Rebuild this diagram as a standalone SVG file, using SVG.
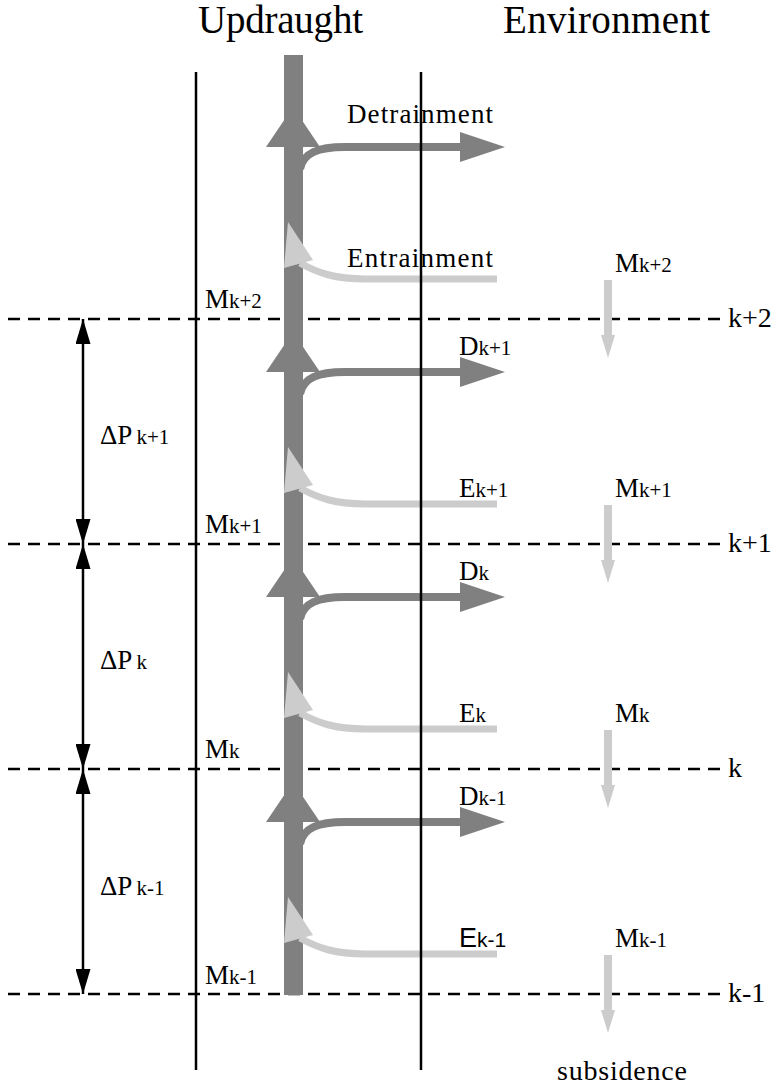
<svg xmlns="http://www.w3.org/2000/svg" width="777" height="1089" viewBox="0 0 777 1089" font-family="'Liberation Serif', 'Times New Roman', 'DejaVu Serif', serif">
<style>
  .t { font-family: "Liberation Serif", "Times New Roman", "DejaVu Serif", serif; fill: #000; }
  .title { font-size: 39px; }
  .big { font-size: 27px; }
  .lab { font-size: 27px; }
  .sub { font-size: 21px; }
  .sans { font-family: "Liberation Sans", Arial, sans-serif; }
  .lvl { font-size: 28px; }
  .dash { stroke: #000; stroke-width: 2.5; stroke-dasharray: 12 8; fill: none; }
  .wall { stroke: #000; stroke-width: 2.5; fill: none; }
  .bar { fill: #808080; }
  .dline { stroke: #808080; stroke-width: 8; fill: none; }
  .dhead { fill: #808080; }
  .eline { stroke: #cccccc; stroke-width: 7; fill: none; }
  .ehead { fill: #cccccc; }
  .sline { stroke: #cccccc; stroke-width: 8; fill: none; }
  .dp { stroke: #000; stroke-width: 2.5; fill: none; marker-start: url(#blk); marker-end: url(#blk); }
</style>
<defs>
  <marker id="blk" viewBox="0 0 25 15" refX="25" refY="7.5" markerWidth="25" markerHeight="15" markerUnits="userSpaceOnUse" orient="auto-start-reverse">
    <path d="M0,0 L25,7.5 L0,15 Z" fill="#000"/>
  </marker>
  <path id="uphead" d="M266,147 L293,107 L320,147 Z"/>
  <path id="dcurve" d="M300,169 C303,153 318,147 345,147 L462,147"/>
  <path id="dtip" d="M460,132 L505,147 L460,162 Z"/>
  <path id="ecurve" d="M497,279 L365,279 C335,279 318,273 300,263"/>
  <path id="etip" d="M288,222 L284,268 L313,260 Z"/>
  <g id="sink">
    <line x1="608" y1="280" x2="608" y2="337" class="sline"/>
    <path d="M601,335 L615,335 L608,358 Z" class="ehead"/>
  </g>
</defs>

<g id="titles">
  <text x="198" y="33" class="t title" textLength="165">Updraught</text>
  <text x="503" y="33" class="t title" textLength="207">Environment</text>
</g>

<g id="levels">
  <g id="level-k2"><line x1="8" y1="319" x2="720" y2="319" class="dash"/><text x="728" y="327" class="t lvl">k+2</text></g>
  <g id="level-k1"><line x1="8" y1="544" x2="720" y2="544" class="dash"/><text x="728" y="552" class="t lvl">k+1</text></g>
  <g id="level-k"><line x1="8" y1="769" x2="720" y2="769" class="dash"/><text x="728" y="777" class="t lvl">k</text></g>
  <g id="level-km1"><line x1="8" y1="994" x2="720" y2="994" class="dash"/><text x="728" y="1002" class="t lvl">k-1</text></g>
</g>

<g id="updraught-column">
  <rect x="284" y="55" width="19" height="940" class="bar"/>
</g>

<g id="connectors">
  <g id="flux-0">
    <use href="#dcurve" class="dline"/><use href="#dtip" class="dhead"/>
    <use href="#ecurve" class="eline"/><use href="#etip" class="ehead"/>
    <use href="#uphead" class="dhead"/>
  </g>
  <g id="flux-1" transform="translate(0,225)">
    <use href="#dcurve" class="dline"/><use href="#dtip" class="dhead"/>
    <use href="#ecurve" class="eline"/><use href="#etip" class="ehead"/>
    <use href="#uphead" class="dhead"/>
  </g>
  <g id="flux-2" transform="translate(0,450)">
    <use href="#dcurve" class="dline"/><use href="#dtip" class="dhead"/>
    <use href="#ecurve" class="eline"/><use href="#etip" class="ehead"/>
    <use href="#uphead" class="dhead"/>
  </g>
  <g id="flux-3" transform="translate(0,675)">
    <use href="#dcurve" class="dline"/><use href="#dtip" class="dhead"/>
    <use href="#ecurve" class="eline"/><use href="#etip" class="ehead"/>
    <use href="#uphead" class="dhead"/>
  </g>
  <g id="subsidence-arrows">
    <use href="#sink"/>
    <use href="#sink" transform="translate(0,225)"/>
    <use href="#sink" transform="translate(0,450)"/>
    <use href="#sink" transform="translate(0,675)"/>
  </g>
  <g id="dp-arrows">
    <line x1="83" y1="319" x2="83" y2="544" class="dp"/>
    <line x1="83" y1="544" x2="83" y2="769" class="dp"/>
    <line x1="83" y1="769" x2="83" y2="994" class="dp"/>
  </g>
</g>

<g id="walls">
  <line x1="196" y1="72" x2="196" y2="1070" class="wall"/>
  <line x1="421" y1="72" x2="421" y2="1070" class="wall"/>
</g>

<g id="labels">
  <text x="347" y="123" class="t big" textLength="146">Detrainment</text>
  <text x="347" y="267" class="t big" textLength="146">Entrainment</text>

  <text x="459" y="355" class="t lab">D<tspan class="sub">k+1</tspan></text>
  <text x="459" y="497" class="t lab">E<tspan class="sub">k+1</tspan></text>
  <text x="459" y="580" class="t lab">D<tspan class="sub">k</tspan></text>
  <text x="459" y="722" class="t lab">E<tspan class="sub">k</tspan></text>
  <text x="459" y="805" class="t lab">D<tspan class="sub">k-1</tspan></text>
  <text x="459" y="947" class="t lab sans">E<tspan class="sub">k-1</tspan></text>

  <text x="205" y="308" class="t lab">M<tspan class="sub">k+2</tspan></text>
  <text x="205" y="533" class="t lab">M<tspan class="sub">k+1</tspan></text>
  <text x="205" y="758" class="t lab">M<tspan class="sub">k</tspan></text>
  <text x="205" y="984" class="t lab">M<tspan class="sub">k-1</tspan></text>

  <text x="615" y="272" class="t lab">M<tspan class="sub">k+2</tspan></text>
  <text x="615" y="497" class="t lab">M<tspan class="sub">k+1</tspan></text>
  <text x="615" y="722" class="t lab">M<tspan class="sub">k</tspan></text>
  <text x="615" y="947" class="t lab">M<tspan class="sub">k-1</tspan></text>

  <text x="100" y="444" class="t lab">ΔP<tspan class="sub" dx="4">k+1</tspan></text>
  <text x="100" y="669" class="t lab">ΔP<tspan class="sub" dx="4">k</tspan></text>
  <text x="100" y="895" class="t lab">ΔP<tspan class="sub" dx="4">k-1</tspan></text>

  <text x="557" y="1080" class="t lvl" textLength="130">subsidence</text>
</g>
</svg>
